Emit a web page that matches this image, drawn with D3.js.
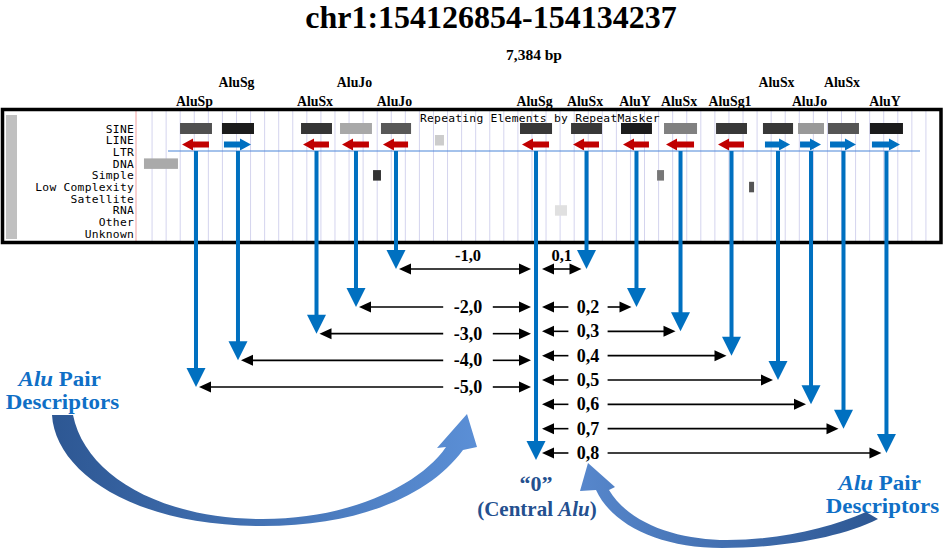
<!DOCTYPE html>
<html>
<head>
<meta charset="utf-8">
<script src="https://cdn.jsdelivr.net/npm/d3@7"></script>
<style>
  body { margin: 0; background: #fff; }
  svg { display: block; }
  .serif { font-family: "Liberation Serif", "Times New Roman", serif; font-weight: bold; }
  .mono { font-family: "DejaVu Sans Mono", monospace; font-size: 11.3px; letter-spacing: 0.25px; fill: #000; }
</style>
</head>
<body>
<div id="figure"></div>
<script>
var svgWidth = 944;
var svgHeight = 551;

// region of the browser window
var regionName = "chr1:154126854-154134237";
var regionLength = 7384;

// track rows of the RepeatMasker panel
var repeatClasses = ["SINE", "LINE", "LTR", "DNA", "Simple", "Low Complexity", "Satellite", "RNA", "Other", "Unknown"];

// Alu elements (bp from region start)
var aluNames  = ["AluSp", "AluSg", "AluSx", "AluJo", "AluJo", "AluSg", "AluSx", "AluY", "AluSx", "AluSg1", "AluSx", "AluJo", "AluSx", "AluY"];
var aluStart  = [387, 773, 1501, 1860, 2237, 3517, 3987, 4447, 4843, 5322, 5754, 6077, 6353, 6739];
var aluEnd    = [681, 1068, 1786, 2154, 2514, 3812, 4272, 4732, 5147, 5607, 6031, 6316, 6638, 7043];
var aluStrand = ["-", "+", "-", "-", "-", "-", "-", "-", "-", "-", "+", "+", "+", "+"];
var aluScore  = [717, 962, 844, 302, 679, 830, 830, 962, 490, 830, 830, 373, 693, 962];
var aluLabelTier = [0, 1, 0, 1, 0, 0, 0, 0, 0, 0, 1, 0, 1, 0];

// other repeats in the window
var otherClass = ["DNA", "LINE", "Simple", "Simple", "Low Complexity", "RNA"];
var otherStart = [55, 2734, 2164, 4779, 5626, 3839];
var otherEnd   = [368, 2817, 2237, 4843, 5672, 3950];
var otherScore = [292, 132, 854, 533, 693, 38];

// pair descriptors around the central Alu
var centralIndex = 5;
var leftPartners = [4, 3, 2, 1, 0];
var leftLabels = ["-1,0", "-2,0", "-3,0", "-4,0", "-5,0"];
var rightPartners = [6, 7, 8, 9, 10, 11, 12, 13];
var rightLabels = ["0,1", "0,2", "0,3", "0,4", "0,5", "0,6", "0,7", "0,8"];

var svg = d3.select("#figure")
  .append("svg")
  .attr("width", svgWidth)
  .attr("height", svgHeight);

// scales
var x = d3.scaleLinear().domain([0, regionLength]).range([138, 940]);
var rowY = d3.scaleLinear().domain([0, repeatClasses.length - 1]).range([128.5, 233.8]);
var shade = d3.scaleLinear().domain([0, 1000]).range(["#e8e8e8", "#141414"]);
var gridX = d3.scaleLinear().domain([0, 57]).range([138, 940]);
var leftRowY = d3.scaleLinear().domain([1, 2, 5]).range([269, 307, 387]);
var rightRowY = d3.scaleLinear().domain([1, 2, 8]).range([269, 307, 453]);

var blue = "#0070c0";
var red = "#c00000";
var mid = function(i) { return x((aluStart[i] + aluEnd[i]) / 2); };

// title
svg.append("text").attr("class", "serif")
  .attr("x", 491).attr("y", 28)
  .attr("text-anchor", "middle").attr("font-size", 32)
  .text(regionName);

svg.append("text").attr("class", "serif")
  .attr("x", 534).attr("y", 60)
  .attr("text-anchor", "middle").attr("font-size", 15.5)
  .text(d3.format(",")(regionLength) + " bp");

// ---- browser panel ----
var panel = svg.append("g");

panel.selectAll(".grid")
  .data(d3.range(1, 57))
  .enter().append("line")
  .attr("x1", d => gridX(d)).attr("x2", d => gridX(d))
  .attr("y1", 111).attr("y2", 241)
  .attr("stroke", "#d4d4ee").attr("stroke-width", 1);

panel.append("rect")
  .attr("x", 6).attr("y", 115).attr("width", 11).attr("height", 124)
  .attr("fill", "#c0c0c0");

panel.append("line")
  .attr("x1", 136).attr("x2", 136).attr("y1", 111).attr("y2", 241)
  .attr("stroke", "#f2a0a0").attr("stroke-width", 1);

panel.selectAll(".rowlabel")
  .data(repeatClasses)
  .enter().append("text")
  .attr("class", "mono")
  .attr("x", 134).attr("y", (d, i) => rowY(i) + 4)
  .attr("text-anchor", "end")
  .text(d => d);

panel.append("text").attr("class", "mono")
  .attr("x", 420).attr("y", 122)
  .text("Repeating Elements by RepeatMasker");

// SINE bars
panel.selectAll(".alu")
  .data(aluNames)
  .enter().append("rect")
  .attr("x", (d, i) => x(aluStart[i]))
  .attr("width", (d, i) => x(aluEnd[i]) - x(aluStart[i]))
  .attr("y", rowY(0) - 5.5).attr("height", 11)
  .attr("fill", (d, i) => shade(aluScore[i]));

// other repeats
panel.selectAll(".other")
  .data(otherClass)
  .enter().append("rect")
  .attr("x", (d, i) => x(otherStart[i]))
  .attr("width", (d, i) => x(otherEnd[i]) - x(otherStart[i]))
  .attr("y", d => rowY(repeatClasses.indexOf(d)) - 5.2).attr("height", 10.5)
  .attr("fill", (d, i) => shade(otherScore[i]));

// strand arrows in the LINE row
var arrowY = rowY(1) + 4.3;
aluNames.forEach(function(name, i) {
  var a = x(aluStart[i]) + 2, b = x(aluEnd[i]) - 3;
  var hl = 11, hh = 6, sh = 3;
  var p;
  if (aluStrand[i] === "+") {
    p = [[a, arrowY - sh], [b - hl, arrowY - sh], [b - hl, arrowY - hh], [b, arrowY],
         [b - hl, arrowY + hh], [b - hl, arrowY + sh], [a, arrowY + sh]];
  } else {
    p = [[b, arrowY - sh], [a + hl, arrowY - sh], [a + hl, arrowY - hh], [a, arrowY],
         [a + hl, arrowY + hh], [a + hl, arrowY + sh], [b, arrowY + sh]];
  }
  panel.append("polygon")
    .attr("points", p.map(q => q.join(",")).join(" "))
    .attr("fill", aluStrand[i] === "+" ? blue : red);
});

var baseY = 151;
panel.append("line")
  .attr("x1", x(276)).attr("x2", x(7200))
  .attr("y1", baseY).attr("y2", baseY)
  .attr("stroke", "#4a86d8").attr("stroke-width", 1.2);

panel.append("rect")
  .attr("x", 2.5).attr("y", 109.5).attr("width", 938.5).attr("height", 133)
  .attr("fill", "none").attr("stroke", "#000").attr("stroke-width", 3.5);

// element labels
svg.selectAll(".alulabel")
  .data(aluNames)
  .enter().append("text")
  .attr("class", "serif")
  .attr("x", (d, i) => mid(i) - 1.5)
  .attr("y", (d, i) => aluLabelTier[i] ? 87 : 106)
  .attr("text-anchor", "middle").attr("font-size", 13.8)
  .text(d => d);

// ---- pointer arrows ----
function blueArrow(cx, tipY) {
  svg.append("line")
    .attr("x1", cx).attr("x2", cx).attr("y1", baseY).attr("y2", tipY - 16)
    .attr("stroke", blue).attr("stroke-width", 4);
  svg.append("polygon")
    .attr("points", [[cx - 9.5, tipY - 19], [cx + 9.5, tipY - 19], [cx, tipY]].map(q => q.join(",")).join(" "))
    .attr("fill", blue);
}

function head(x0, y0, dir) {
  // dir -1 points left, +1 points right
  svg.append("polygon")
    .attr("points", [[x0, y0], [x0 - dir * 12, y0 - 5.5], [x0 - dir * 12, y0 + 5.5]].map(q => q.join(",")).join(" "))
    .attr("fill", "#000");
}

function seg(x1, x2, y) {
  svg.append("line")
    .attr("x1", x1).attr("x2", x2).attr("y1", y).attr("y2", y)
    .attr("stroke", "#000").attr("stroke-width", 1.6);
}

function doubleArrow(x1, x2, y, label, labelX, above) {
  head(x1, y, -1);
  head(x2, y, 1);
  var t = svg.append("text").attr("class", "serif")
    .attr("text-anchor", "middle").text(label);
  if (above) {
    seg(x1 + 10, x2 - 10, y);
    t.attr("x", labelX).attr("y", y - 8).attr("font-size", 16.5);
  } else {
    var w = label.length * 5.2;
    seg(x1 + 10, labelX - w - 4, y);
    seg(labelX + w + 4, x2 - 10, y);
    t.attr("x", labelX).attr("y", y + 6).attr("font-size", 18);
  }
}

var cX = mid(centralIndex);

leftPartners.forEach(function(k, i) {
  var y = leftRowY(i + 1);
  blueArrow(mid(k), y);
  doubleArrow(mid(k) + 3, cX - 5, y, leftLabels[i], 468, i === 0);
});

rightPartners.forEach(function(k, i) {
  var y = rightRowY(i + 1);
  blueArrow(mid(k), y);
  var x2 = mid(k) - 5;
  doubleArrow(cX + 6, x2, y, rightLabels[i], i === 0 ? (cX + 6 + x2) / 2 : 588, i === 0);
});

blueArrow(cX, 460);

// ---- captions ----
var navy = "#24508f";
var cap = svg.append("text").attr("class", "serif")
  .attr("text-anchor", "middle").attr("fill", navy);
cap.append("tspan").attr("x", 536).attr("y", 491).attr("font-size", 22)
  .text("\u201c0\u201d");
cap.append("tspan").attr("x", 537).attr("y", 516).attr("font-size", 21).text("(Central ");
cap.append("tspan").attr("font-size", 21).attr("font-style", "italic").text("Alu");
cap.append("tspan").attr("font-size", 21).text(")");

function descriptor(cx, y) {
  var g = svg.append("g").attr("transform", "translate(" + cx + ",0) scale(1.12,1)");
  var t1 = g.append("text").attr("class", "serif")
    .attr("x", -2.5).attr("y", y - 0.5).attr("text-anchor", "middle")
    .attr("font-size", 20.5).attr("fill", "#0f6fc6");
  t1.append("tspan").attr("font-style", "italic").text("Alu");
  t1.append("tspan").text(" Pair");
  g.append("text").attr("class", "serif")
    .attr("x", 0).attr("y", y + 22.5).attr("text-anchor", "middle")
    .attr("font-size", 20.5).attr("fill", "#0f6fc6")
    .text("Descriptors");
}
descriptor(62.5, 387);
descriptor(882.5, 491);

// ---- curved block arrows ----
var defs = svg.append("defs");
var g1 = defs.append("linearGradient").attr("id", "gl").attr("x1", 0).attr("x2", 1).attr("y1", 0).attr("y2", 0);
g1.append("stop").attr("offset", 0).attr("stop-color", "#2d5793");
g1.append("stop").attr("offset", 1).attr("stop-color", "#5b8fd6");
var g2 = defs.append("linearGradient").attr("id", "gr").attr("x1", 0).attr("x2", 1).attr("y1", 0).attr("y2", 0);
g2.append("stop").attr("offset", 0).attr("stop-color", "#5787cc");
g2.append("stop").attr("offset", 1).attr("stop-color", "#2d5793");

var pl = d3.path();
pl.moveTo(52, 415);
pl.bezierCurveTo(55, 470, 130, 526, 263, 526);
pl.bezierCurveTo(360, 526, 430, 495, 463, 450);
pl.lineTo(477, 447);
pl.lineTo(467, 414);
pl.lineTo(437, 448);
pl.lineTo(446, 447);
pl.bezierCurveTo(420, 485, 350, 519, 263, 519);
pl.bezierCurveTo(160, 519, 85, 475, 73, 415);
pl.closePath();
svg.append("path").attr("d", pl.toString()).attr("fill", "url(#gl)");

var pr = d3.path();
pr.moveTo(596, 490);
pr.lineTo(580, 491);
pr.lineTo(588, 463);
pr.lineTo(615, 487);
pr.lineTo(609, 490);
pr.bezierCurveTo(630, 525, 680, 540, 727, 540);
pr.bezierCurveTo(780, 540, 830, 528, 866, 512);
pr.lineTo(878, 519);
pr.bezierCurveTo(840, 538, 780, 548, 722, 548);
pr.bezierCurveTo(660, 548, 612, 525, 596, 490);
pr.closePath();
svg.append("path").attr("d", pr.toString()).attr("fill", "url(#gr)");
</script>
</body>
</html>
